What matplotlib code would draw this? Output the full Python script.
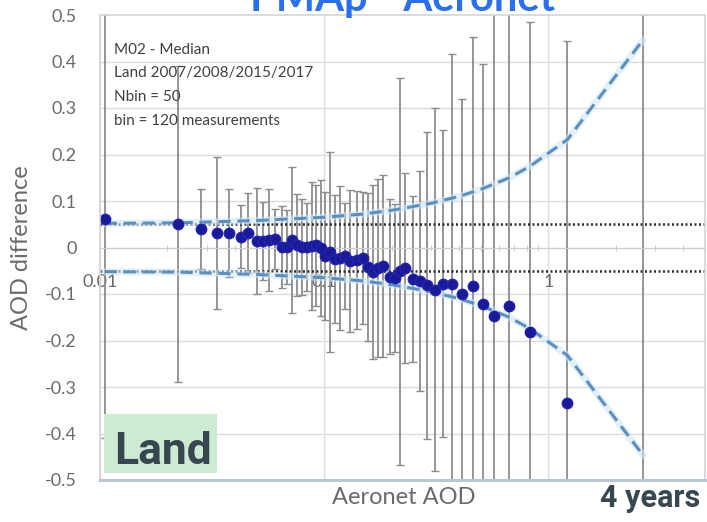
import matplotlib
matplotlib.use("Agg")
import matplotlib.pyplot as plt
from matplotlib.patches import Rectangle
from matplotlib.ticker import LogLocator, NullFormatter, FixedLocator

# ---- data ----
aeronet_aod = [0.0105, 0.0223, 0.0282, 0.0333, 0.0377, 0.0426, 0.0458, 0.0502, 0.0534, 0.0568,
               0.0604, 0.0649, 0.0684, 0.0720, 0.0757, 0.0797, 0.0839, 0.0884, 0.0921, 0.0970,
               0.101, 0.106, 0.112, 0.118, 0.124, 0.131, 0.140, 0.149, 0.157, 0.166,
               0.174, 0.183, 0.197, 0.207, 0.218, 0.230, 0.249, 0.268, 0.288, 0.313,
               0.340, 0.373, 0.413, 0.463, 0.513, 0.574, 0.670, 0.832, 1.216, 2.65]
aod_diff = [0.061, 0.051, 0.040, 0.031, 0.031, 0.023, 0.031, 0.014, 0.014, 0.016,
            0.018, 0.001, 0.001, 0.016, 0.005, 0.001, 0.001, 0.003, 0.005, -0.001,
            -0.018, -0.010, -0.025, -0.023, -0.018, -0.029, -0.027, -0.023, -0.042, -0.053,
            -0.044, -0.040, -0.063, -0.066, -0.051, -0.044, -0.068, -0.072, -0.081, -0.091,
            -0.078, -0.078, -0.100, -0.083, -0.122, -0.147, -0.126, -0.182, -0.334, -0.62]
aod_err = [0.47, 0.34, 0.086, 0.163, 0.094, 0.068, 0.086, 0.115, 0.084, 0.110,
           0.064, 0.088, 0.080, 0.157, 0.110, 0.103, 0.095, 0.138, 0.130, 0.146,
           0.137, 0.215, 0.138, 0.155, 0.114, 0.153, 0.148, 0.142, 0.159, 0.187,
           0.191, 0.196, 0.167, 0.159, 0.416, 0.204, 0.179, 0.236, 0.330, 0.390,
           0.330, 0.494, 0.420, 0.536, 0.517, 0.700, 0.700, 0.667, 0.778, 1.20]

env_x = [0.0105, 0.0223, 0.05, 0.1, 0.15, 0.2, 0.3, 0.4, 0.5, 0.67, 0.83, 1.216, 2.65]
env_upper = [0.052, 0.053, 0.058, 0.065, 0.072, 0.080, 0.095, 0.110, 0.125, 0.150, 0.175, 0.232, 0.447]
env_lower = [-v for v in env_upper]

ref_levels = [0.05, -0.05]
y_ticks = [-0.5, -0.4, -0.3, -0.2, -0.1, 0.0, 0.1, 0.2, 0.3, 0.4, 0.5]
y_tick_labels = ["-0.5", "-0.4", "-0.3", "-0.2", "-0.1", "0", "0.1", "0.2", "0.3", "0.4", "0.5"]
x_ticks = [0.01, 0.1, 1]
x_tick_labels = ["0.01", "0.1", "1"]

info_lines = ["M02 - Median", "Land 2007/2008/2015/2017", "Nbin = 50", "bin = 120 measurements"]

FONT = ["Lato", "DejaVu Sans"]
plt.rcParams['font.family'] = FONT

fig = plt.figure(figsize=(7.07, 5.22), dpi=100)
fig.patch.set_facecolor("white")
ax = fig.add_axes([100/707, 1-480/522, 605/707, 465/522])
ax.set_facecolor("white")

ax.set_xscale("log")
ax.set_xlim(0.01, 5.0)
ax.set_ylim(-0.5, 0.5)

# grid
for y in y_ticks[1:-1]:
    ax.axhline(y, color="#dcdcdc", lw=1.0, zorder=0)
for x in x_ticks:
    ax.axvline(x, color="#dcdcdc", lw=1.0, zorder=0)

# error bars
ax.errorbar(aeronet_aod, aod_diff, yerr=aod_err, fmt="none", ecolor="#8c8c8c",
            elinewidth=1.3, capsize=3, capthick=1.0, zorder=2)

# reference dotted lines
for lv in ref_levels:
    ax.axhline(lv, color="#2b2b2b", lw=1.8, ls=(0, (0.8, 1.0)), zorder=3)

# envelope
for env in (env_upper, env_lower):
    ax.plot(env_x, env, color="#cfe6f5", lw=5, alpha=0.6, zorder=3, solid_capstyle="round")
    ax.plot(env_x, env, color="#5b8fbf", lw=2.2, ls=(0, (4, 2.2)), zorder=4)

# points
ax.plot(aeronet_aod, aod_diff, "o", color="#1a1a99", mec="#2323b0", ms=7.5, zorder=5)

# axis at y=0 with minor ticks, labels below
ax.spines['bottom'].set_position(('data', 0))
ax.spines['bottom'].set_color("#cfcfcf")
for s in ['top', 'right', 'left']:
    ax.spines[s].set_visible(False)
ax.xaxis.set_major_locator(FixedLocator(x_ticks))
ax.set_xticklabels(x_tick_labels)
ax.xaxis.set_minor_locator(LogLocator(base=10, subs=range(2, 10)))
ax.xaxis.set_minor_formatter(NullFormatter())
ax.tick_params(axis='x', which='major', length=0, pad=19, labelsize=13, labelcolor="#6a6a6a")
ax.tick_params(axis='x', which='minor', length=4, color="#c8c8c8", direction='inout')
ax.set_yticks(y_ticks)
ax.set_yticklabels(y_tick_labels)
ax.tick_params(axis='y', length=0, pad=17, labelsize=13, labelcolor="#6a6a6a")

# frame
ax.add_patch(Rectangle((0, 0), 1, 1, transform=ax.transAxes, fill=False,
                       edgecolor="#d4d4d4", lw=1.2, clip_on=False, zorder=6))
ax.plot([0, 1], [0, 0], transform=ax.transAxes, color="#b9c6d3", lw=2.2,
        clip_on=False, zorder=7)

# labels
fig.text(22/707, 1-248/522, "AOD difference", rotation=90, ha="center", va="center",
         fontsize=17, color="#6a6a6a")
fig.text(404/707, 1-498/522, "Aeronet AOD", ha="center", va="center",
         fontsize=17, color="#6a6a6a")

# info text
for i, line in enumerate(info_lines):
    fig.text(114/707, 1-(50 + 23.5*i)/522, line, ha="left", va="center",
             fontsize=11, color="#404040")

# title (cut at the top, as in the reference)
fig.text(403/707, 1-11/522, "PMAp - Aeronet", ha="center", va="baseline",
         fontsize=30, fontweight="bold", color="#2a6ff0")

# Land box
fig.patches.append(Rectangle((104/707, 1-473/522), 113/707, 59/522,
                             transform=fig.transFigure, facecolor="#cdebd3",
                             edgecolor="none", zorder=8))
fig.text(114/707, 1-464/522, "Land", ha="left", va="baseline", fontsize=32,
         fontweight="bold", color="#37474f", family=["Roboto", "DejaVu Sans"], zorder=9)
fig.text(700/707, 1-507/522, "4 years", ha="right", va="baseline", fontsize=22,
         fontweight="bold", color="#37474f", family=["Roboto", "DejaVu Sans"], zorder=9)

fig.savefig("out.png", dpi=100, facecolor=fig.get_facecolor())
